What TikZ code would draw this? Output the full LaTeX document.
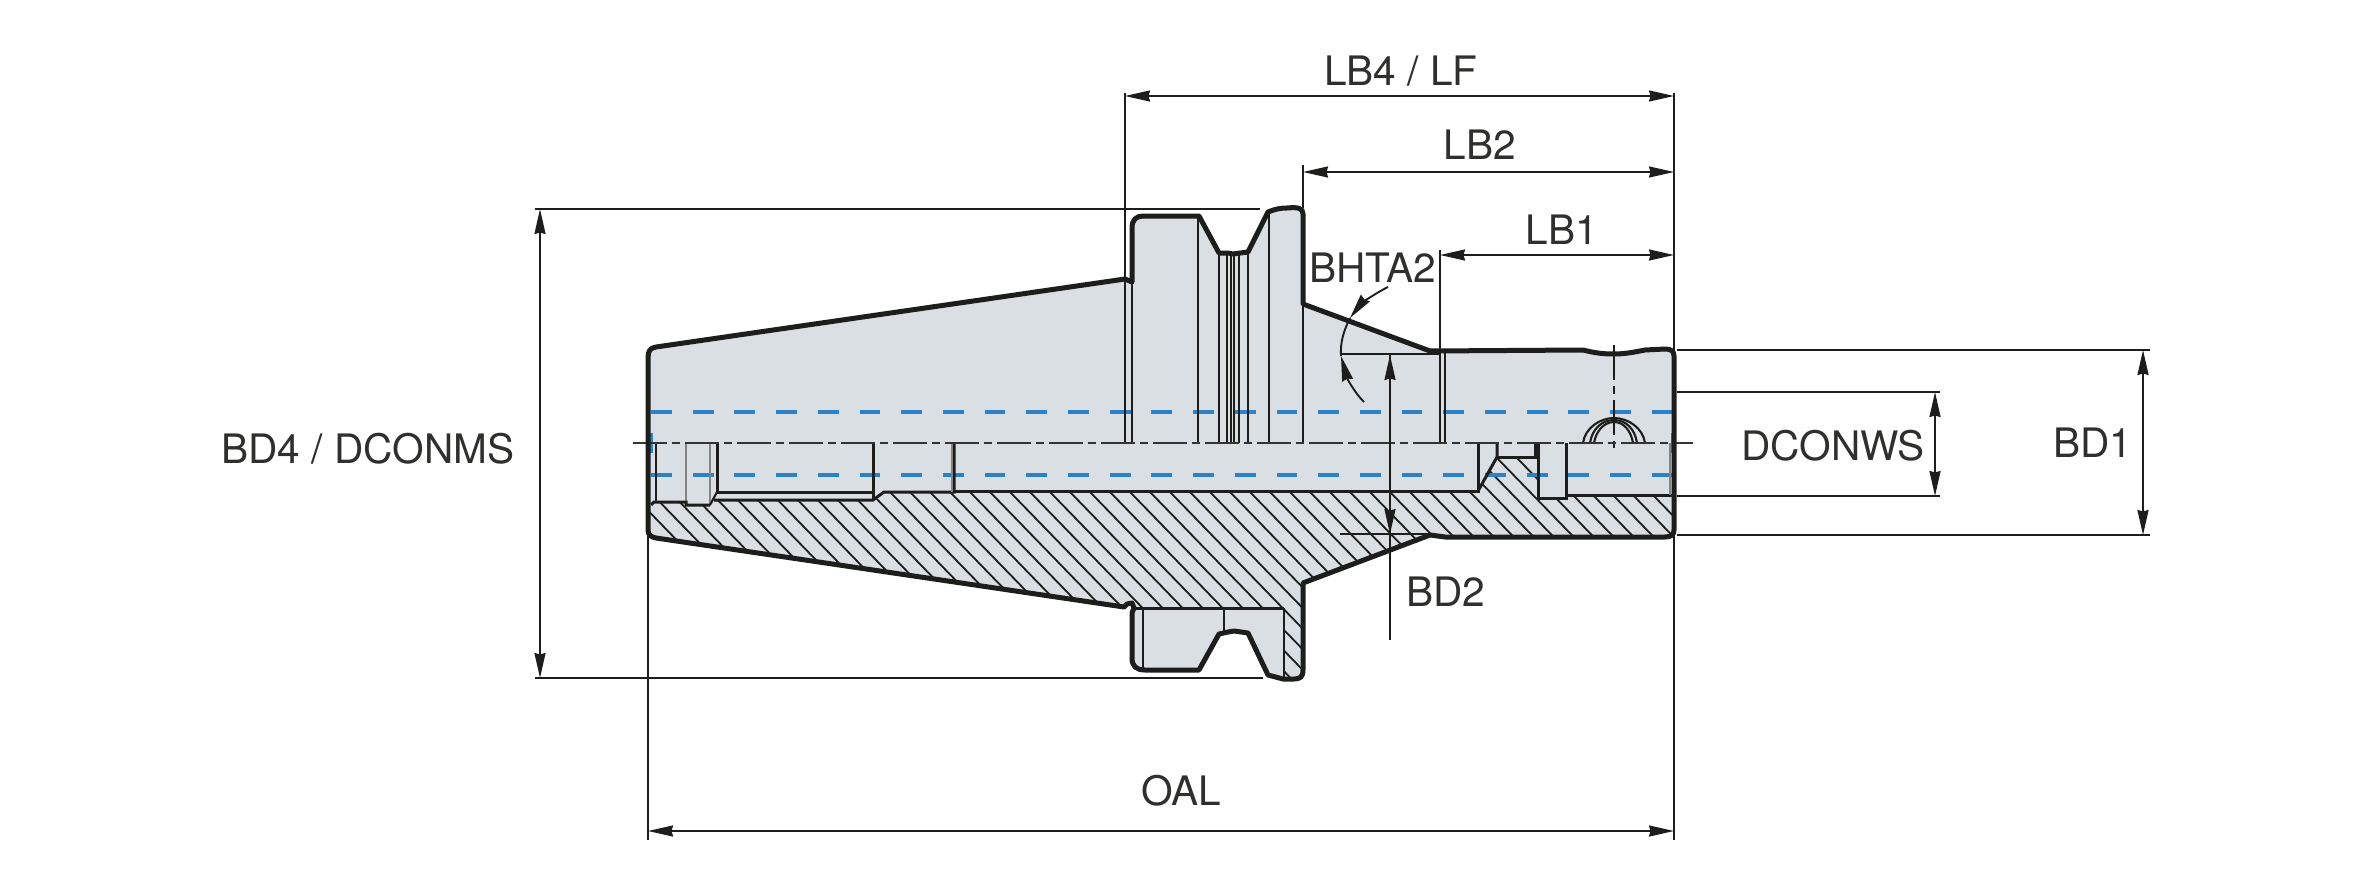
\documentclass[tikz,border=0pt]{standalone}
\usepackage{fontspec}
\setmainfont{TeX Gyre Heros}
\usetikzlibrary{arrows.meta}
\definecolor{body}{HTML}{D9DFE3}
\definecolor{ink}{HTML}{1D1D1B}
\definecolor{blueline}{HTML}{2A82C8}
\tikzset{
  outline/.style={draw=ink,line width=5pt,line join=round,line cap=round},
  thick inner/.style={draw=ink,line width=3pt,line join=miter},
  thin inner/.style={draw=ink,line width=2.1pt},
  pale inner/.style={draw=ink!55,line width=1.8pt},
  hatchline/.style={draw=ink,line width=1.8pt},
  hidden/.style={draw=blueline,line width=3.4pt,dash pattern=on 20.8pt off 20.9pt},
  centre/.style={draw=ink!90,line width=2pt,dash pattern=on 34pt off 5pt on 8pt off 5pt},
  dimline/.style={draw=ink,line width=1.9pt},
  dimarrow/.style={dimline,{Stealth[length=25pt,width=11pt,inset=1.5pt]}-{Stealth[length=25pt,width=11pt,inset=1.5pt]}},
  oneend/.style={dimline,-{Stealth[length=25pt,width=11pt,inset=1.5pt]}},
  lbl/.style={text=ink!92,font=\fontsize{40.6}{42}\selectfont,inner sep=0pt,anchor=center}
}
\newcommand{\bodycontour}{
  (648,358) .. controls (648,351) and (650,348) .. (656,347)
  -- (1125,279) -- (1132,282) -- (1132,228)
  .. controls (1132,220) and (1136,216) .. (1143,216)
  -- (1199,216) -- (1219,253) -- (1228,253) -- (1233,254) -- (1248,252) -- (1268,212)
  .. controls (1275,209) and (1281,208) .. (1287,208)
  .. controls (1298,207) and (1303,208) .. (1303,214)
  -- (1303,304) -- (1430,351) -- (1583,350)
  .. controls (1595,353) and (1603,354) .. (1614,354)
  .. controls (1625,354) and (1635,352) .. (1645,350)
  -- (1665,349) .. controls (1671,349) and (1674,351) .. (1674,356)
  -- (1674,530) .. controls (1674,535) and (1671,537) .. (1665,537)
  -- (1445,537) -- (1430,535) -- (1303,583) -- (1303,670)
  .. controls (1303,677) and (1300,679) .. (1294,679)
  -- (1283,679) -- (1268,675) -- (1248,633) -- (1234,631) -- (1228,632) -- (1219,634)
  -- (1199,670) -- (1145,670)
  .. controls (1136,670) and (1132,666) .. (1132,658)
  -- (1132,613) -- (1134,608) -- (1132,603) -- (1127,604) -- (1124,607)
  -- (656,538) .. controls (651,537) and (648,535) .. (648,530) -- cycle
}
\begin{document}
\begin{tikzpicture}[x=1pt,y=-1pt]
\useasboundingbox (0,0) rectangle (2362,886);
% body
\fill[body] \bodycontour;
% hatching
\begin{scope}
\clip (648,530) -- (648,505) -- (651,505) -- (654,502) -- (686,502) -- (686,505) -- (710,505) -- (714,500)
  -- (873,500) -- (884,492) -- (1478,491) -- (1497,457) -- (1538,457) -- (1538,498) -- (1566,498)
  -- (1566,495) -- (1674,495) -- (1674,537) -- (1445,537) -- (1430,535) -- (1303,583) -- (1303,679)
  -- (1284,679) -- (1284,608) -- (1134,608) -- (1127,604) -- (1124,607) -- (656,538) -- cycle;
\foreach \i in {-32,...,28}
  \draw[hatchline] ({1170+\i*20-130/1.03},362) -- ({1170+\i*20+210/1.03},702);
\end{scope}
% hidden lines
\coordinate (hl1) at (651,412); \coordinate (hr1) at (1672,412);
\coordinate (hl2) at (651,475); \coordinate (hr2) at (1672,475);
\draw[hidden] (hl1) -- (hr1);
\draw[hidden] (hl2) -- (hr2);
\draw[draw=blueline,line width=3pt] (651,433) -- (651,453);
\draw[draw=blueline,line width=3pt] (1672,433) -- (1672,453);
% inner verticals, upper half
\foreach \x/\y in {1125/279,1132/282,1198/217,1219/253,1227/253,1231/254,1234/254,1239/253,1248/252,1269/212,1303/304,1440/351,1445/351}
  \draw[thin inner] (\x,\y) -- (\x,443);
% bore lines
\draw[thin inner] (656,443) -- (656,503);
\draw[pale inner] (686,443) -- (686,505);
\draw[pale inner] (710,443) -- (710,505);
\draw[thick inner] (717,443) -- (717,492) -- (873,492);
\draw[thin inner] (717,492) -- (710,505);
\draw[thick inner] (873,443) -- (873,500);
\draw[thick inner] (651,505) -- (654,502) -- (686,502) -- (686,505) -- (710,505);
\draw[thick inner] (714,500) -- (873,500) -- (884,492) -- (954,492) -- (954,443);
\draw[pale inner] (952,443) -- (952,492);
\draw[thick inner] (954,491) -- (1478,491) -- (1478,443);
\draw[thick inner] (1478,491) -- (1497,457) -- (1497,443);
\draw[thick inner] (1497,457) -- (1535,457) -- (1535,443);
\draw[thick inner] (1538,443) -- (1538,498) -- (1566,498) -- (1566,443);
\draw[thick inner] (1566,495) -- (1672,495);
\draw[pale inner] (1670,443) -- (1670,495);
% lower flange
\draw[thick inner] (1134,608) -- (1284,608);
\draw[thin inner] (1143,608) -- (1143,670);
\draw[thin inner] (1224,608) -- (1224,632);
\draw[thin inner] (1284,608) -- (1284,677);
% radial hole
\draw[thin inner] (1583,443) .. controls (1585,428) and (1600,418) .. (1614,418) .. controls (1628,418) and (1643,428) .. (1645,443);
\draw[thin inner] (1590,443) .. controls (1592,429) and (1602,420) .. (1614,420) .. controls (1626,420) and (1635,429) .. (1637,443);
\draw[thin inner] (1594,443) .. controls (1596,431) and (1604,422) .. (1614,422) .. controls (1624,422) and (1631,431) .. (1633,443);
\coordinate (hv1) at (1614,345); \coordinate (hv2) at (1614,448);
\draw[draw=ink,line width=2.4pt,dash pattern=on 35pt off 6pt on 8pt off 6pt] (hv1) -- (hv2);
% centre line
\coordinate (cl) at (633,443); \coordinate (cr) at (1693,443);
\draw[centre] (cl) -- (cr);
% outline
\draw[outline] \bodycontour;
% dimension anchors
\coordinate (a1) at (648,533); \coordinate (a2) at (648,840);
\coordinate (b1) at (1674,93); \coordinate (b2) at (1674,840);
\coordinate (c1) at (1125,93); \coordinate (c2) at (1125,279);
\coordinate (d1) at (1303,165); \coordinate (d2) at (1303,208);
\coordinate (e1) at (1440,250); \coordinate (e2) at (1440,351);
\draw[dimline] (a1) -- (a2);
\draw[dimline] (b1) -- (b2);
\draw[dimline] (c1) -- (c2);
\draw[dimline] (d1) -- (d2);
\draw[dimline] (e1) -- (e2);
% horizontal dims
\coordinate (lf1) at (1125,96); \coordinate (lf2) at (1674,96);
\coordinate (lb21) at (1303,172); \coordinate (lb22) at (1674,172);
\coordinate (lb11) at (1440,255); \coordinate (lb12) at (1674,255);
\coordinate (oa1) at (648,831); \coordinate (oa2) at (1674,831);
\draw[dimarrow] (lf1) -- (lf2);
\draw[dimarrow] (lb21) -- (lb22);
\draw[dimarrow] (lb11) -- (lb12);
\draw[dimarrow] (oa1) -- (oa2);
% BD4
\coordinate (t1) at (535,209); \coordinate (t2) at (1260,209);
\coordinate (t3) at (535,678); \coordinate (t4) at (1263,678);
\coordinate (t5) at (540,209); \coordinate (t6) at (540,678);
\draw[dimline] (t1) -- (t2);
\draw[dimline] (t3) -- (t4);
\draw[dimarrow] (t5) -- (t6);
% right side
\coordinate (r1) at (1677,350); \coordinate (r2) at (2150,350);
\coordinate (r3) at (1677,535); \coordinate (r4) at (2150,535);
\coordinate (r5) at (1677,392); \coordinate (r6) at (1940,392);
\coordinate (r7) at (1677,496); \coordinate (r8) at (1940,496);
\coordinate (r9) at (1935,392); \coordinate (r10) at (1935,496);
\coordinate (r11) at (2143,350); \coordinate (r12) at (2143,535);
\draw[dimline] (r1) -- (r2);
\draw[dimline] (r3) -- (r4);
\draw[dimline] (r5) -- (r6);
\draw[dimline] (r7) -- (r8);
\draw[dimarrow] (r9) -- (r10);
\draw[dimarrow] (r11) -- (r12);
% BD2
\coordinate (bd1) at (1340,354); \coordinate (bd2) at (1440,354);
\coordinate (bd3) at (1340,534); \coordinate (bd4) at (1430,534);
\coordinate (bd5) at (1390,640); \coordinate (bd6) at (1390,355);
\coordinate (bd7) at (1390,445); \coordinate (bd8) at (1390,534);
\draw[dimline] (bd1) -- (bd2);
\draw[dimline] (bd3) -- (bd4);
\draw[dimline] (bd5) -- (bd6);
\draw[oneend] (1390,400) -- (bd6);
\draw[oneend] (bd7) -- (bd8);
% BHTA2 arc
\coordinate (ang1) at (1350,318); \coordinate (ang2) at (1341,356);
\coordinate (ang3) at (1388,287); \coordinate (ang4) at (1364,402);
\draw[dimline] (ang1) .. controls (1344,330) and (1340,342) .. (ang2);
\draw[oneend] (ang3) .. controls (1372,295) and (1360,305) .. (ang1);
\draw[oneend] (ang4) .. controls (1354,392) and (1347,378) .. (ang2);
% labels
\node[lbl] (tlf) at (1401,71) {LB4 / LF};
\node[lbl] (tb2) at (1480,145) {LB2};
\node[lbl] (tb1) at (1562,230) {LB1};
\node[lbl] (tht) at (1373,268) {BHTA2};
\node[lbl] (tbd2) at (1446,592) {BD2};
\node[lbl] (tws) at (1833,446) {DCONWS};
\node[lbl] (tbd1) at (2093,443) {BD1};
\node[lbl] (tms) at (368,449) {BD4 / DCONMS};
\node[lbl] (toal) at (1181,791) {OAL};
\end{tikzpicture}
\end{document}
